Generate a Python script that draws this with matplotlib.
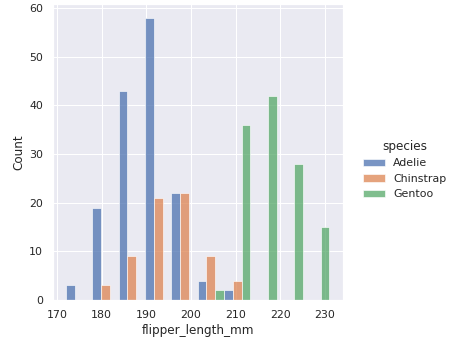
import numpy as np
import matplotlib
matplotlib.use("Agg")
import matplotlib.pyplot as plt
import matplotlib.patches as mpatches
import seaborn as sns

# Flipper length histogram counts per species (10 equal bins from 172 to 231 mm)
species = ["Adelie", "Chinstrap", "Gentoo"]
flipper_min, flipper_max, n_bins = 172, 231, 10
adelie_counts = [3, 19, 43, 58, 22, 4, 2, 0, 0, 0]
chinstrap_counts = [0, 3, 9, 21, 22, 9, 4, 0, 0, 0]
gentoo_counts = [0, 0, 0, 0, 0, 2, 36, 42, 28, 15]
xticks = [170, 180, 190, 200, 210, 220, 230]

sns.set_theme()
colors = sns.color_palette("deep", 3)

edges = np.linspace(flipper_min, flipper_max, n_bins + 1)
bin_w = edges[1] - edges[0]
sub_w = bin_w / len(species)

fig = plt.figure(figsize=(455 / 72, 339 / 72), dpi=72)
ax = fig.add_axes([0.116, 0.115, 0.637, 0.874])

handles = []
for i, (name, counts) in enumerate(zip(species, [adelie_counts, chinstrap_counts, gentoo_counts])):
    lefts = edges[:-1] + i * sub_w
    ax.bar(lefts, counts, width=sub_w, align="edge", color=colors[i],
           alpha=0.75, edgecolor="white", linewidth=0.8)
    handles.append(mpatches.Patch(facecolor=colors[i], alpha=0.75,
                                  edgecolor="white", linewidth=0.8, label=name))

ax.set_xlabel("flipper_length_mm")
ax.set_ylabel("Count")
ax.set_xticks(xticks)
ax.margins(x=0.05)
ax.set_ylim(0, max(adelie_counts) * 1.05)

fig.legend(handles=handles, title="species", loc="center left",
           bbox_to_anchor=(0.775, 0.5), frameon=False)

fig.savefig("out.png", dpi=72)
